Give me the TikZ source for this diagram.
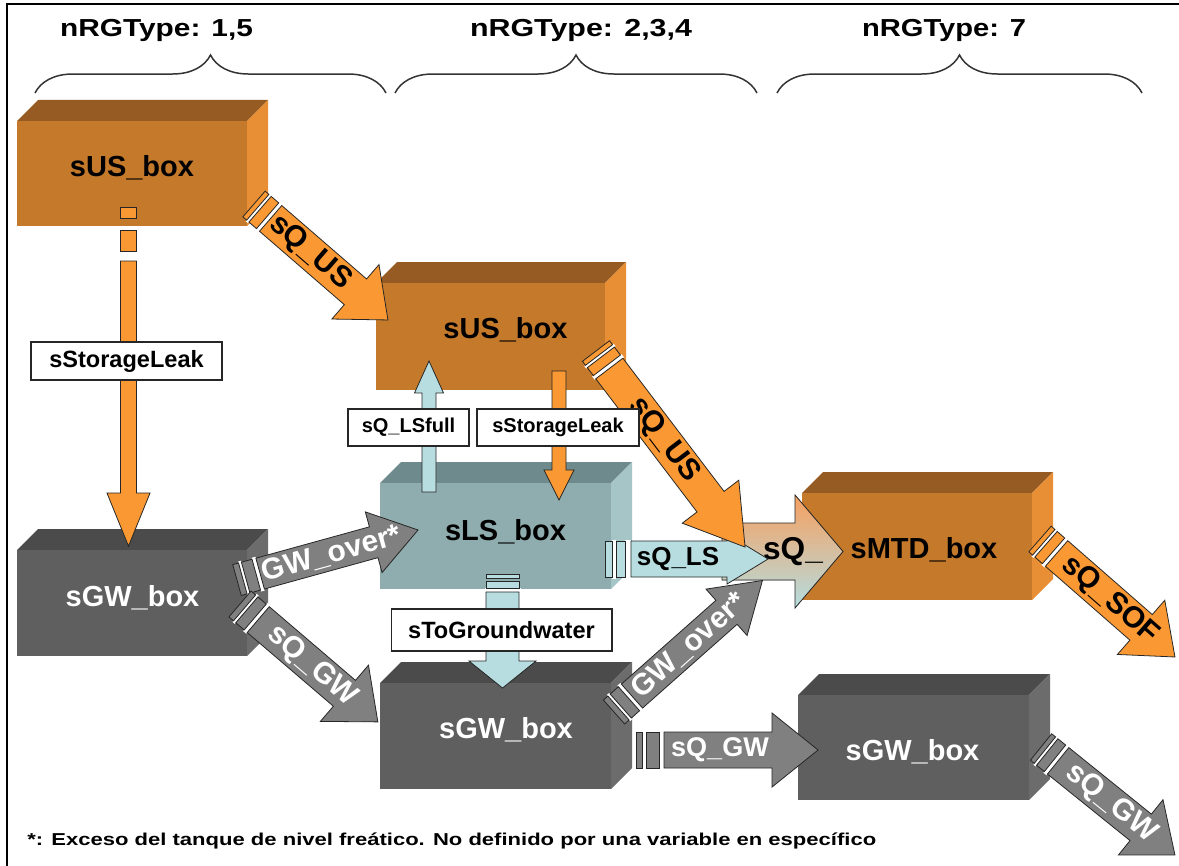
\documentclass[tikz,border=0pt]{standalone}
\usepackage{fontspec}
\usepackage{graphicx}
\setmainfont{Liberation Sans}
\usetikzlibrary{calc,decorations.pathreplacing}

% storage colours (front / top / side faces)
\definecolor{usfront}{RGB}{196,121,43}
\definecolor{ustop}{RGB}{150,91,34}
\definecolor{usside}{RGB}{232,142,52}
\definecolor{lsfront}{RGB}{143,172,174}
\definecolor{lstop}{RGB}{111,138,140}
\definecolor{lsside}{RGB}{166,197,199}
\definecolor{gwfront}{RGB}{95,95,95}
\definecolor{gwtop}{RGB}{75,75,75}
\definecolor{gwside}{RGB}{108,108,108}
% flux colours
\definecolor{orarrow}{RGB}{250,153,51}
\definecolor{tlarrow}{RGB}{183,221,224}
\definecolor{gyarrow}{RGB}{128,128,128}
\definecolor{gradtop}{RGB}{246,160,96}
\definecolor{gradbot}{RGB}{181,221,224}

% a storage drawn as a block: left, top, right, bottom of the front face, colour stem
\newcommand\tank[5]{%
  \fill[#5top] (#1,#2) -- (#1+21,#2-21) -- (#3+21,#2-21) -- (#3,#2) -- cycle;
  \fill[#5side] (#3,#2) -- (#3+21,#2-21) -- (#3+21,#4-21) -- (#3,#4) -- cycle;
  \fill[#5front] (#1,#2) rectangle (#3,#4);}

% block arrow with two break stripes at its tail
\newif\ifbandA
\tikzset{barpaint/.style={fill=orarrow}}
\pgfkeys{/barr/.is family,/barr,
  hw/.store in=\bHW, hh/.store in=\bHH, hl/.store in=\bHL,
  sa/.store in=\bSA, ga/.store in=\bGA, sb/.store in=\bSB, gb/.store in=\bGB,
  col/.store in=\bCol, txt/.store in=\bTxt, tcol/.store in=\bTcol,
  tsz/.store in=\bTsz, tpos/.store in=\bTpos, nm/.store in=\bNm,
  bandA/.is if=bandA,
  paint/.code={\tikzset{barpaint/.style={#1}}},
  nostripes/.style={sa=0,ga=0,sb=0,gb=0},
  default/.style={hw=17,hh=36,hl=44,sa=5,ga=3,sb=10,gb=4,col=orarrow,
    txt={},tcol=black,tsz=17,tpos=80,nm=flux,bandA=true,paint={fill=\bCol}}}

\newcommand\blockarrow[3][]{%
  \begingroup
  \pgfkeys{/barr/.cd,default,#1}%
  \path let \p1=(#2), \p2=(#3) in \pgfextra{%
    \pgfmathsetmacro\tmpA{atan2(\y2-\y1,\x2-\x1)}%
    \pgfmathsetmacro\tmpL{veclen(\x2-\x1,\y2-\y1)/0.569055}%
    \xdef\bAng{\tmpA}\xdef\bL{\tmpL}};
  \pgfmathsetmacro\bHS{\bL-\bHL}%
  \pgfmathsetmacro\bA{\bSA}%
  \pgfmathsetmacro\bB{\bSA+\bGA}%
  \pgfmathsetmacro\bC{\bSA+\bGA+\bSB}%
  \pgfmathsetmacro\bD{\bSA+\bGA+\bSB+\bGB}%
  \begin{scope}[shift={(#2)},rotate=\bAng]
    \ifdim\bSB pt>0pt
      \ifbandA\fill[white] (\bA,-\bHW-1.5) rectangle (\bB,\bHW+1.5);\fi
      \fill[white] (\bC,-\bHW-1.5) rectangle (\bD,\bHW+1.5);
      \filldraw[arrowedge,fill=\bCol] (0,-\bHW) rectangle (\bA,\bHW);
      \filldraw[arrowedge,fill=\bCol] (\bB,-\bHW) rectangle (\bC,\bHW);
    \fi
    \filldraw[arrowedge,barpaint] (\bD,-\bHW) -- (\bHS,-\bHW) -- (\bHS,-\bHH)
      -- (\bL,0) -- (\bHS,\bHH) -- (\bHS,\bHW) -- (\bD,\bHW) -- cycle;
    \node[transform shape,inner sep=0pt,text=\bTcol,
      font=\bfseries\fontsize{\bTsz pt}{\bTsz pt}\selectfont] (\bNm) at (\bTpos,0) {\bTxt};
  \end{scope}
  \endgroup}

\begin{document}
\begin{tikzpicture}[x=0.02cm,y=-0.02cm,
  arrowedge/.style={draw=black!85,line width=0.45pt,line join=miter},
  boxtext/.style={anchor=base,inner sep=0pt,font=\bfseries\fontsize{16.5pt}{18pt}\selectfont},
  tag/.style={draw=black!85,line width=0.6pt,fill=white,inner sep=0pt},
  tagbig/.style={tag,font=\bfseries\fontsize{13.4pt}{15pt}\selectfont},
  tagsmall/.style={tag,font=\bfseries\fontsize{11.4pt}{13pt}\selectfont},
  hdr/.style={anchor=base,inner sep=0pt,font=\bfseries\fontsize{14pt}{16pt}\selectfont},
  brc/.style={draw=black!80,line width=0.85pt,decorate,decoration={brace,amplitude=0.76cm}}]

\useasboundingbox (0,0) rectangle (1179,865);
\fill[white] (0,0) rectangle (1179,865);
\draw[line width=1.5pt] (7,880) -- (7,4) -- (1195,4);

% group headings
\node[hdr] (h1) at (156.5,37) {\resizebox{3.86cm}{\height}{nRGType: 1,5}};
\node[hdr] (h2) at (581,37) {\resizebox{4.44cm}{\height}{nRGType: 2,3,4}};
\node[hdr] (h3) at (944,37) {\resizebox{3.28cm}{\height}{nRGType: 7}};
\draw[brc] (35,93) -- (386,93);
\draw[brc] (395,93) -- (757,93);
\draw[brc] (777,93) -- (1142,93);

% storages
\tank{17}{121}{247}{226}{us}
\tank{376}{283}{605}{390}{us}
\tank{380}{483}{611}{589}{ls}
\tank{17}{550}{247}{656}{gw}
\tank{380}{683}{611}{789}{gw}
\tank{798}{695}{1029}{800}{gw}
\tank{802}{493}{1032}{600}{us}

\node[boxtext] (us1) at (132,176) {sUS\_box};
\node[boxtext] (us2) at (505.5,338) {sUS\_box};
\node[boxtext] (ls) at (505.5,540) {sLS\_box};
\node[boxtext,text=white] (gw1) at (132.5,606) {sGW\_box};
\node[boxtext,text=white] (gw2) at (506,738) {sGW\_box};
\node[boxtext,text=white] (gw3) at (912.5,760) {sGW\_box};
\node[boxtext] (mtd) at (924,558) {sMTD\_box};

% flux end points
\coordinate (slAs) at (128.5,207);  \coordinate (slAe) at (128.5,546);
\coordinate (usAs) at (254,204);    \coordinate (usAe) at (388,320);
\coordinate (lfs)  at (429,492);    \coordinate (lfe)  at (429,361);
\coordinate (slBs) at (559,371);    \coordinate (slBe) at (559,500);
\coordinate (goAs) at (237,580);    \coordinate (goAe) at (418,530);
\coordinate (gqAs) at (240,604);    \coordinate (gqAe) at (378,722);
\coordinate (tgs)  at (502.5,574);  \coordinate (tge)  at (502.5,688);
\coordinate (gqBs) at (636,750);    \coordinate (gqBe) at (818,750);
\coordinate (sofs) at (1040,539);   \coordinate (sofe) at (1175,657);
\coordinate (gqCs) at (1041,747);   \coordinate (gqCe) at (1175,855);
\coordinate (mixs) at (722,551.5);  \coordinate (mixe) at (843,551.5);
\coordinate (goBs) at (614,712);    \coordinate (goBe) at (763,580);
\coordinate (lss)  at (605,559);    \coordinate (lse)  at (768,559);
\coordinate (usBs) at (596,351);    \coordinate (usBe) at (745,547);

% fluxes
\blockarrow[hw=8,hh=21.5,hl=53,sa=11,ga=12,sb=21,gb=10,bandA=false,nm=fa]{slAs}{slAe}
\blockarrow[hw=17,hh=36,hl=43,txt={sQ\_US},tpos=74,nm=fb]{usAs}{usAe}
\blockarrow[nostripes,hw=7,hh=14.5,hl=32,col=tlarrow,nm=fc]{lfs}{lfe}
\blockarrow[nostripes,hw=7,hh=15,hl=30,nm=fd]{slBs}{slBe}
\blockarrow[hw=16,hh=31.5,hl=46,sa=6,ga=3,sb=11,gb=4,col=gyarrow,tcol=white,
  txt={GW\_over*},tpos=98,nm=fe]{goAs}{goAe}
\blockarrow[hw=17,hh=37,hl=44,sa=6,ga=3,sb=11,gb=4,col=gyarrow,tcol=white,
  txt={sQ\_GW},tpos=95,nm=ff]{gqAs}{gqAe}
\blockarrow[hw=16.5,hh=33.5,hl=27,sa=4,ga=3,sb=7,gb=4,bandA=false,col=tlarrow,nm=fg]{tgs}{tge}
\blockarrow[hw=18,hh=37,hl=46,sa=6,ga=4,sb=13,gb=5,col=gyarrow,tcol=white,
  txt={sQ\_GW},tpos=84,tsz=15.4,nm=fh]{gqBs}{gqBe}
\blockarrow[hw=17,hh=36,hl=45,txt={sQ\_SOF},tpos=93,nm=fi]{sofs}{sofe}
\blockarrow[hw=17,hh=35.5,hl=44,col=gyarrow,tcol=white,txt={sQ\_GW},tpos=90,nm=fj]{gqCs}{gqCe}
\blockarrow[nostripes,hw=28.5,hh=56.5,hl=48,paint={top color=gradtop,bottom color=gradbot},
  txt={sQ\_},tpos=71,tsz=18,nm=fk]{mixs}{mixe}
\blockarrow[hw=16,hh=31,hl=48,sa=6,ga=3,sb=11,gb=4,col=gyarrow,tcol=white,
  txt={GW\_over*},tpos=100,nm=fl]{goBs}{goBe}
\blockarrow[hw=18,hh=25,hl=41,sa=7,ga=4,sb=9,gb=6,col=tlarrow,txt={sQ\_LS},tpos=73,tsz=14.8,nm=fm]{lss}{lse}
\blockarrow[hw=17,hh=35.5,hl=57,txt={sQ\_US},tpos=112,nm=fn]{usBs}{usBe}

% flux name tags
\node[tagbig,minimum width=3.82cm,minimum height=0.76cm] (tA) at (126.5,361) {sStorageLeak};
\node[tagsmall,minimum width=2.42cm,minimum height=0.74cm] (tB) at (408.5,427.5) {sQ\_LSfull};
\node[tagsmall,minimum width=3.24cm,minimum height=0.74cm] (tC) at (558,427.5) {sStorageLeak};
\node[tagbig,minimum width=4.42cm,minimum height=0.84cm] (tD) at (501.5,630) {sToGroundwater};

% footnote
\node[anchor=base west,inner sep=0pt,font=\bfseries\fontsize{9.8pt}{11pt}\selectfont] (note) at (27,845)
  {\resizebox{16.98cm}{\height}{*: Exceso del tanque de nivel freático. No definido por una variable en específico}};
\end{tikzpicture}
\end{document}
